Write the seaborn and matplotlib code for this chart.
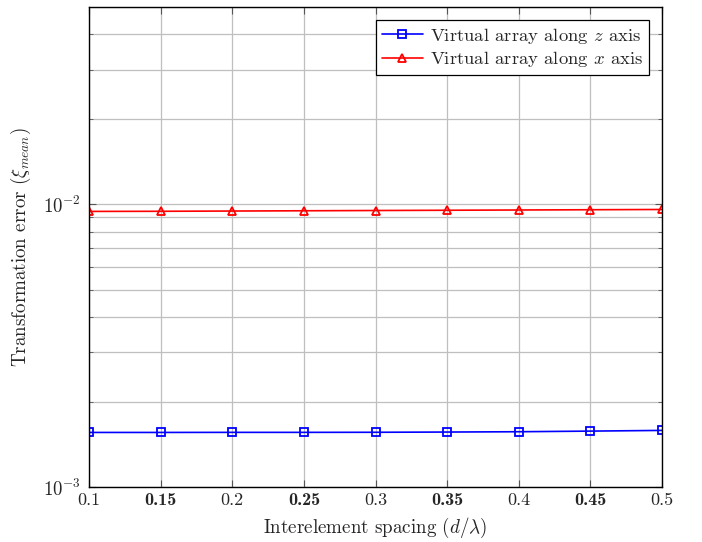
import numpy as np
import pandas as pd
import seaborn as sns
import matplotlib
matplotlib.use("Agg")
import matplotlib.pyplot as plt
from matplotlib.ticker import LogLocator, NullFormatter, FixedLocator

spacing = [0.1, 0.15, 0.2, 0.25, 0.3, 0.35, 0.4, 0.45, 0.5]
err_z = [1.560e-3, 1.560e-3, 1.561e-3, 1.561e-3, 1.562e-3, 1.565e-3, 1.569e-3, 1.577e-3, 1.586e-3]
err_x = [0.00945, 0.00946, 0.00948, 0.00950, 0.00952, 0.00954, 0.00956, 0.00958, 0.00960]
xtick_labels = ["0.1", "0.15", "0.2", "0.25", "0.3", "0.35", "0.4", "0.45", "0.5"]
label_z = r"Virtual array along $z$ axis"
label_x = r"Virtual array along $x$ axis"

sns.set_style("white")
plt.rcParams["font.family"] = ["cmr10"]
plt.rcParams["mathtext.fontset"] = "cm"
plt.rcParams["axes.formatter.use_mathtext"] = True
plt.rcParams["axes.unicode_minus"] = False

df_z = pd.DataFrame({"spacing": spacing, "err": err_z})
df_x = pd.DataFrame({"spacing": spacing, "err": err_x})

fig = plt.figure(figsize=(7.02, 5.42), dpi=100)
ax = fig.add_axes([89 / 702, 1 - 487 / 542, (662 - 89) / 702, (487 - 7) / 542])

sns.lineplot(data=df_z, x="spacing", y="err", color="#0000ff", marker="s",
             markerfacecolor="none", markeredgecolor="#0000ff", markeredgewidth=1.3,
             markersize=5.5, linewidth=1.2, ax=ax, label=label_z)
sns.lineplot(data=df_x, x="spacing", y="err", color="#ff0000", marker="^",
             markerfacecolor="none", markeredgecolor="#ff0000", markeredgewidth=1.3,
             markersize=5.5, linewidth=1.2, ax=ax, label=label_x)

ax.set_yscale("log")
ax.set_xlim(0.1, 0.5)
ax.set_ylim(1e-3, 5e-2)
ax.xaxis.set_major_locator(FixedLocator(spacing))
ax.set_xticklabels(xtick_labels)
for i, t in enumerate(ax.get_xticklabels()):
    t.set_fontsize(13)
    if i % 2 == 1:
        t.set_fontfamily("cmb10")
ax.yaxis.set_major_locator(LogLocator(base=10, numticks=10))
ax.yaxis.set_minor_locator(LogLocator(base=10, subs=np.arange(2, 10), numticks=20))
ax.yaxis.set_minor_formatter(NullFormatter())
ax.tick_params(axis="y", which="major", labelsize=13.5, pad=6)
ax.tick_params(axis="x", which="major", pad=4)

ax.grid(True, which="major", color="#bfbfbf", linewidth=0.9)
ax.grid(True, which="minor", axis="y", color="#bfbfbf", linewidth=0.9)
ax.set_axisbelow(True)
ax.tick_params(which="both", direction="in", top=True, right=True, bottom=True, left=True, color="#555555")
ax.tick_params(which="major", length=5)
ax.tick_params(which="minor", length=3)
for s in ax.spines.values():
    s.set_color("black")
    s.set_linewidth(1.0)

ax.set_xlabel(r"Interelement spacing $(d/\lambda)$", fontsize=13.7, labelpad=6)
ax.set_ylabel(r"Transformation error $(\xi_{mean})$", fontsize=13.7, labelpad=7)

leg = ax.legend(loc="upper right", fontsize=13.4, frameon=True, fancybox=False,
                edgecolor="black", framealpha=1, borderpad=0.3, handlelength=2.2,
                handletextpad=0.4, labelspacing=0.2, borderaxespad=0.7)
leg.get_frame().set_linewidth(0.9)

fig.savefig("out.png", dpi=100)
